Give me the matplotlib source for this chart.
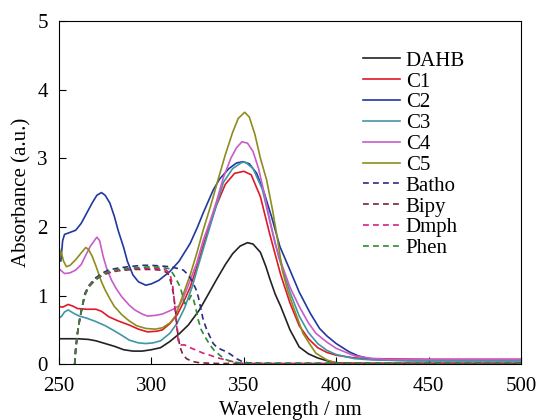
import matplotlib.pyplot as plt

plt.rcParams['font.family'] = ['Liberation Serif', 'DejaVu Serif']

# DAHB
w_dahb = [250, 260, 266, 270, 275, 280, 285, 290, 295, 300, 305, 310, 315, 320, 326, 330, 335, 340,
          344, 348, 352, 355, 359, 362, 364, 367, 370, 375, 380, 385, 390, 395, 400, 410, 450, 500]
a_dahb = [0.37, 0.37, 0.36, 0.34, 0.30, 0.26, 0.21, 0.19, 0.19, 0.21, 0.24, 0.33, 0.44, 0.57, 0.79, 0.98, 1.22, 1.45,
          1.61, 1.72, 1.77, 1.75, 1.63, 1.42, 1.25, 1.02, 0.84, 0.50, 0.25, 0.15, 0.09, 0.05, 0.02, 0.01, 0.01, 0.01]

# C1
w_c1 = [250, 252, 255, 258, 260, 265, 270, 273, 277, 282, 288, 293, 298, 303, 306, 310, 314, 317, 321, 325,
        330, 335, 340, 345, 350, 354, 359, 364, 370, 375, 380, 385, 390, 395, 400, 410, 420, 450, 500]
a_c1 = [0.84, 0.83, 0.87, 0.84, 0.81, 0.80, 0.80, 0.77, 0.69, 0.63, 0.57, 0.51, 0.47, 0.48, 0.50, 0.59, 0.72, 0.88, 1.12, 1.45,
        1.90, 2.30, 2.62, 2.78, 2.81, 2.76, 2.44, 1.90, 1.30, 0.89, 0.56, 0.37, 0.24, 0.17, 0.13, 0.09, 0.08, 0.07, 0.07]

# C2
w_c2 = [250, 251, 252, 253, 256, 259, 262, 265, 268, 270.5, 273, 275, 277.5, 280, 282, 285, 287, 290, 293, 297,
        300, 304, 310, 315, 321, 325, 328, 333.5, 337, 342, 346, 349.5, 353, 357, 361, 365, 369.6, 375, 380, 386,
        391, 395, 400, 407, 412, 418, 425, 440, 500]
a_c2 = [1.72, 1.50, 1.80, 1.89, 1.92, 1.95, 2.05, 2.20, 2.35, 2.46, 2.50, 2.46, 2.35, 2.15, 1.95, 1.70, 1.50, 1.30, 1.20, 1.15,
        1.17, 1.22, 1.35, 1.50, 1.76, 2.00, 2.20, 2.54, 2.70, 2.85, 2.93, 2.95, 2.92, 2.78, 2.50, 2.15, 1.71, 1.37, 1.05, 0.74,
        0.52, 0.41, 0.30, 0.18, 0.12, 0.08, 0.06, 0.05, 0.05]

# C3
w_c3 = [250, 251.5, 253, 255, 258, 261, 265, 270, 275, 279, 284, 288, 293, 297, 301, 305, 310, 314, 318, 322,
        325, 330, 335, 339, 344, 349, 351, 355, 360, 364, 369, 375, 380, 385, 390, 395, 400, 410, 420, 450, 500]
a_c3 = [0.67, 0.70, 0.76, 0.79, 0.74, 0.70, 0.67, 0.62, 0.56, 0.50, 0.42, 0.35, 0.31, 0.30, 0.31, 0.34, 0.45, 0.60, 0.82, 1.12,
        1.40, 1.85, 2.30, 2.65, 2.85, 2.94, 2.94, 2.85, 2.55, 2.10, 1.55, 1.05, 0.70, 0.46, 0.30, 0.20, 0.14, 0.08, 0.06, 0.05, 0.05]

# C4
w_c4 = [250, 253, 256, 259, 262, 264, 267, 270.5, 272, 274, 276, 278.5, 281, 284, 288, 291, 295, 298, 302, 306,
        311, 315, 317, 320, 324.5, 328, 332, 335, 339, 343, 346, 349, 352, 355, 358, 361, 364, 367, 371, 375,
        380, 385, 389, 395, 400, 410, 420, 430, 500]
a_c4 = [1.39, 1.32, 1.33, 1.37, 1.45, 1.56, 1.72, 1.85, 1.80, 1.56, 1.38, 1.22, 1.10, 0.98, 0.86, 0.79, 0.73, 0.70, 0.71, 0.73,
        0.79, 0.85, 0.95, 1.15, 1.47, 1.80, 2.10, 2.35, 2.72, 3.00, 3.15, 3.24, 3.22, 3.10, 2.85, 2.50, 2.10, 1.75, 1.42, 1.12,
        0.84, 0.60, 0.45, 0.32, 0.23, 0.12, 0.08, 0.07, 0.07]

# C5
w_c5 = [250, 251, 252.5, 254, 256, 259, 262, 264.5, 266, 268, 270, 273, 275, 278, 280, 284, 288, 292, 297, 302,
        306, 310, 313, 317, 321, 324.5, 328, 332, 336, 340, 344, 347, 350.5, 353, 356, 359, 362.4, 365.6, 368, 371,
        374, 377, 380, 382, 386, 389, 395, 400, 410, 500]
a_c5 = [1.47, 1.65, 1.50, 1.42, 1.44, 1.52, 1.62, 1.70, 1.67, 1.57, 1.43, 1.20, 1.08, 0.93, 0.84, 0.72, 0.63, 0.56, 0.52, 0.51,
        0.53, 0.60, 0.70, 1.00, 1.30, 1.61, 1.95, 2.30, 2.68, 3.05, 3.38, 3.58, 3.67, 3.60, 3.35, 3.00, 2.68, 2.24, 1.86, 1.35,
        1.05, 0.82, 0.60, 0.45, 0.28, 0.16, 0.06, 0.02, 0.01, 0.01]

# Batho
w_batho = [258.5, 259, 260, 261.4, 263, 264, 266, 269.5, 273, 276.7, 282, 287.5, 295, 300, 305, 310, 315, 317.3,
           320, 321.8, 324, 325.4, 327, 328.1, 330, 331.7, 333.5, 335.3, 338, 340.7, 343, 346, 349, 352, 360, 500]
a_batho = [0.0, 0.2, 0.45, 0.69, 0.90, 1.03, 1.14, 1.25, 1.32, 1.37, 1.40, 1.42, 1.44, 1.44, 1.43, 1.42, 1.39, 1.37,
           1.30, 1.22, 1.10, 0.98, 0.78, 0.64, 0.50, 0.40, 0.30, 0.25, 0.21, 0.18, 0.14, 0.08, 0.04, 0.02, 0.01, 0.01]

# Bipy
w_bipy = [258.5, 259, 260, 261.4, 263, 264, 266, 269.5, 273, 277, 282, 290, 300, 305, 308, 309, 310.5, 311.9,
          313, 313.7, 314.5, 315.5, 317, 319, 322, 326, 335, 500]
a_bipy = [0.0, 0.2, 0.45, 0.68, 0.88, 1.00, 1.12, 1.22, 1.29, 1.33, 1.36, 1.38, 1.38, 1.37, 1.34, 1.32, 1.20, 1.03,
          0.80, 0.59, 0.40, 0.25, 0.14, 0.08, 0.04, 0.02, 0.01, 0.01]

# Dmph
w_dmph = [258.5, 259, 260, 261.4, 263, 264, 266, 269.5, 273, 277, 282, 290, 300, 305, 308, 310, 311.5, 312.5,
          313.5, 314.6, 316, 318, 321, 324.5, 328, 331.7, 336, 340.7, 345, 350, 500]
a_dmph = [0.0, 0.2, 0.45, 0.68, 0.89, 1.01, 1.13, 1.23, 1.30, 1.34, 1.37, 1.39, 1.40, 1.39, 1.37, 1.32, 1.15, 0.90,
          0.60, 0.32, 0.28, 0.28, 0.24, 0.20, 0.16, 0.13, 0.09, 0.06, 0.03, 0.01, 0.01]

# Phen
w_phen = [258.5, 259, 260, 261.4, 263, 264, 266, 269.5, 273, 277, 282, 290, 300, 305, 310, 312.8, 315.5, 318.2,
          320, 321.5, 322.7, 324, 325.4, 327, 329, 331.7, 334, 337, 340, 343, 347, 355, 500]
a_phen = [0.0, 0.2, 0.45, 0.68, 0.89, 1.01, 1.13, 1.23, 1.30, 1.35, 1.38, 1.40, 1.42, 1.41, 1.39, 1.27, 1.13, 0.88,
          0.92, 1.00, 0.95, 0.82, 0.64, 0.50, 0.40, 0.28, 0.20, 0.13, 0.07, 0.04, 0.02, 0.01, 0.01]

fig = plt.figure(figsize=(5.41, 4.2), dpi=100)
ax = fig.add_axes([0.109, 0.133, 0.854, 0.817])

solid = [
    (w_dahb, a_dahb, '#222222', 'DAHB'),
    (w_c1, a_c1, '#e01828', 'C1'),
    (w_c2, a_c2, '#2038a0', 'C2'),
    (w_c3, a_c3, '#3f97a5', 'C3'),
    (w_c4, a_c4, '#c85cc8', 'C4'),
    (w_c5, a_c5, '#8e8c1c', 'C5'),
]
dashed = [
    (w_batho, a_batho, '#2c2c80', 'Batho'),
    (w_bipy, a_bipy, '#7a2434', 'Bipy'),
    (w_dmph, a_dmph, '#d42080', 'Dmph'),
    (w_phen, a_phen, '#2a8a30', 'Phen'),
]
for w, a, c, lab in solid:
    ax.plot(w, a, color=c, lw=1.2, label=lab)
for w, a, c, lab in dashed:
    ax.plot(w, a, color=c, lw=1.2, ls=(0, (3.5, 2.5)), label=lab)

ax.set_xlim(250, 500)
ax.set_ylim(0, 5)
ax.set_xticks([250, 300, 350, 400, 450, 500])
ax.set_yticks([0, 1, 2, 3, 4, 5])
ax.tick_params(direction='in', length=5, labelsize=15, top=False, right=False)
ax.tick_params(axis='x', pad=9)
ax.tick_params(axis='y', pad=8)
ax.set_xlabel('Wavelength / nm', fontsize=15, labelpad=4)
ax.set_ylabel('Absorbance (a.u.)', fontsize=15, labelpad=4)

ax.legend(loc='upper left', bbox_to_anchor=(0.658, 0.912), frameon=False, fontsize=15,
          handlelength=1.8, handletextpad=0.25, labelspacing=0.06, borderpad=0, borderaxespad=0)

fig.savefig('out.png', dpi=100)
